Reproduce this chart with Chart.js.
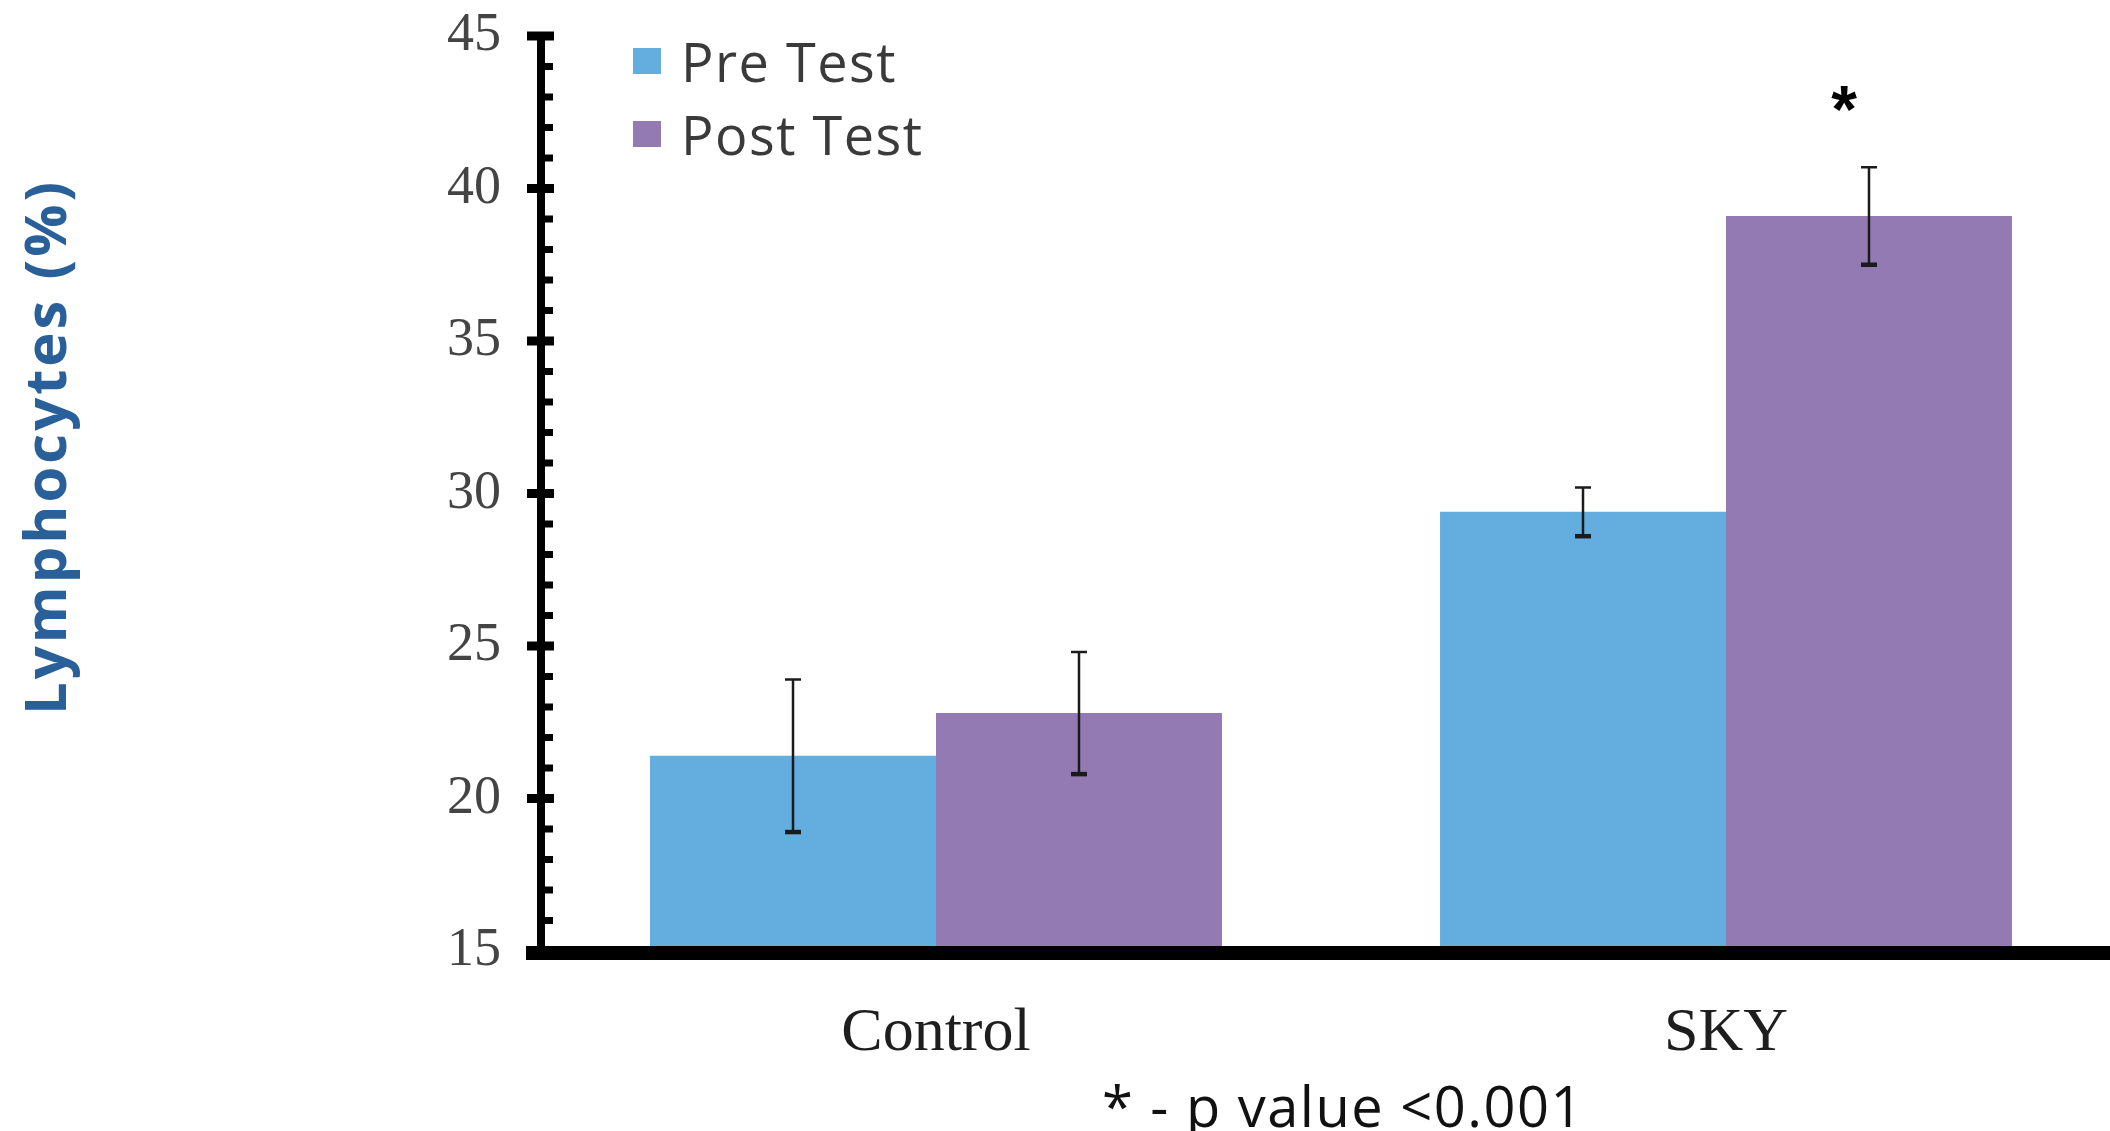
<!DOCTYPE html>
<html>
<head>
<meta charset="utf-8">
<script src="https://cdn.jsdelivr.net/npm/chart.js@4/dist/chart.umd.min.js"></script>
<style>
  html, body { margin: 0; padding: 0; background: #fff; overflow: hidden; }
  #wrap { width: 2110px; height: 1131px; overflow: hidden; }
  canvas { display: block; }
</style>
</head>
<body>
<div id="wrap"><canvas id="chart" width="2124" height="1131"></canvas></div>
<script>
// Lymphocyte percentage before and after the programme, by group
const categories = ['Control', 'SKY'];
const seriesNames = ['Pre Test', 'Post Test'];
const preTest = [21.4, 29.4];
const postTest = [22.8, 39.1];
const preErr = [2.5, 0.8];
const postErr = [2.0, 1.6];
const yTicks = [15, 20, 25, 30, 35, 40, 45];
// significance marks: [series index, category index, text]
const sigMarks = [[1, 1, '*']];
const yTitle = 'Lymphocytes (%)';
const footnote = '* - p value <0.001';

const colors = ['#63aedf', '#947ab3'];
const errors = [preErr, postErr];

// Draws both axes with their thick rules and major/minor tick marks
const axisPlugin = {
  id: 'axisRules',
  afterDatasetsDraw(chart) {
    const {ctx, chartArea, scales: {y}} = chart;
    const x0 = chartArea.left;
    ctx.save();
    ctx.fillStyle = '#000';
    const yMin = yTicks[0], yMax = yTicks[yTicks.length - 1];
    const pTop = y.getPixelForValue(yMax);
    const pBot = y.getPixelForValue(yMin);
    // vertical rule
    ctx.fillRect(x0 - 4, pTop - 4, 8, pBot - pTop + 4);
    // minor ticks every unit, major ticks on labelled values
    for (let v = yMin; v <= yMax; v++) {
      const p = y.getPixelForValue(v);
      if (yTicks.includes(v)) {
        ctx.fillRect(x0 - 14, p - 4.5, 27, 9);
      } else {
        ctx.fillRect(x0, p - 3.5, 12, 7);
      }
    }
    // horizontal rule
    ctx.fillRect(x0 - 15, pBot - 5, chart.width - x0 + 15, 14);
    ctx.restore();
  }
};

// Error bars from the series spreads
const errorBarPlugin = {
  id: 'errorBars',
  afterDatasetsDraw(chart) {
    const {ctx, scales: {y}} = chart;
    ctx.save();
    ctx.strokeStyle = '#1b1b1b';
    chart.data.datasets.forEach((ds, i) => {
      const meta = chart.getDatasetMeta(i);
      meta.data.forEach((bar, j) => {
        const v = ds.data[j], e = errors[i][j];
        const top = y.getPixelForValue(v + e);
        const bot = y.getPixelForValue(v - e);
        ctx.lineWidth = 2.5;
        ctx.beginPath();
        ctx.moveTo(bar.x, top);
        ctx.lineTo(bar.x, bot);
        ctx.moveTo(bar.x - 8, top);
        ctx.lineTo(bar.x + 8, top);
        ctx.stroke();
        ctx.lineWidth = 4.5;
        ctx.beginPath();
        ctx.moveTo(bar.x - 8, bot);
        ctx.lineTo(bar.x + 8, bot);
        ctx.stroke();
      });
    });
    // significance asterisks above the upper whisker
    ctx.fillStyle = '#000';
    ctx.font = 'bold 66px "Liberation Sans"';
    ctx.textAlign = 'center';
    ctx.textBaseline = 'alphabetic';
    sigMarks.forEach(([i, j, txt]) => {
      const bar = chart.getDatasetMeta(i).data[j];
      const v = chart.data.datasets[i].data[j] + errors[i][j];
      const p = y.getPixelForValue(v);
      ctx.fillText(txt, bar.x - 25, p - 35);
    });
    ctx.restore();
  }
};

// Legend in the upper left corner of the plot
const legendPlugin = {
  id: 'innerLegend',
  afterDraw(chart) {
    const {ctx, chartArea} = chart;
    ctx.save();
    ctx.font = '400 54px "Open Sans"';
    ctx.letterSpacing = '1.5px';
    ctx.textBaseline = 'alphabetic';
    ctx.textAlign = 'left';
    chart.data.datasets.forEach((ds, i) => {
      const cy = chartArea.top + 25 + i * 73;
      ctx.fillStyle = ds.backgroundColor;
      ctx.fillRect(chartArea.left + 92, cy - 13, 28, 26);
      ctx.fillStyle = '#3a3a3a';
      ctx.fillText(ds.label, chartArea.left + 140, cy + 21);
    });
    ctx.restore();
  }
};

// Rotated y-axis title and the footnote under the category labels
const textPlugin = {
  id: 'extraText',
  afterDraw(chart) {
    const {ctx} = chart;
    ctx.save();
    ctx.translate(66, 447);
    ctx.rotate(-Math.PI / 2);
    ctx.font = 'bold 58px "Open Sans"';
    ctx.letterSpacing = '3px';
    ctx.fillStyle = '#2a609a';
    ctx.textAlign = 'center';
    ctx.textBaseline = 'alphabetic';
    ctx.fillText(yTitle, 0, 0);
    ctx.restore();

    ctx.save();
    ctx.font = '400 56px "Open Sans"';
    ctx.letterSpacing = '1.5px';
    ctx.fillStyle = '#111';
    ctx.textAlign = 'center';
    ctx.textBaseline = 'alphabetic';
    ctx.fillText(footnote, 1343, 1127);
    ctx.restore();
  }
};

new Chart(document.getElementById('chart'), {
  type: 'bar',
  data: {
    labels: categories,
    datasets: [
      { label: seriesNames[0], data: preTest, backgroundColor: colors[0] },
      { label: seriesNames[1], data: postTest, backgroundColor: colors[1] }
    ]
  },
  options: {
    responsive: false,
    devicePixelRatio: 1,
    animation: false,
    layout: { padding: { top: 36, right: 3, left: 0, bottom: 0 } },
    datasets: { bar: { categoryPercentage: 0.724, barPercentage: 1.0, borderWidth: 0 } },
    plugins: { legend: { display: false }, tooltip: { enabled: false } },
    scales: {
      x: {
        grid: { display: false },
        border: { display: false },
        ticks: {
          color: '#1e1e1e',
          font: { family: '"Liberation Serif"', size: 62 },
          padding: 38
        },
        afterFit(s) { s.height = 180; }
      },
      y: {
        min: yTicks[0],
        max: yTicks[yTicks.length - 1],
        grid: { display: false },
        border: { display: false },
        afterBuildTicks(s) { s.ticks = yTicks.map(v => ({ value: v })); },
        ticks: {
          color: '#444',
          font: { family: '"Liberation Serif"', size: 54 },
          padding: 32
        },
        afterFit(s) { s.width = 541; s.paddingTop = 0; s.paddingBottom = 0; }
      }
    }
  },
  plugins: [axisPlugin, errorBarPlugin, legendPlugin, textPlugin]
});
</script>
</body>
</html>
